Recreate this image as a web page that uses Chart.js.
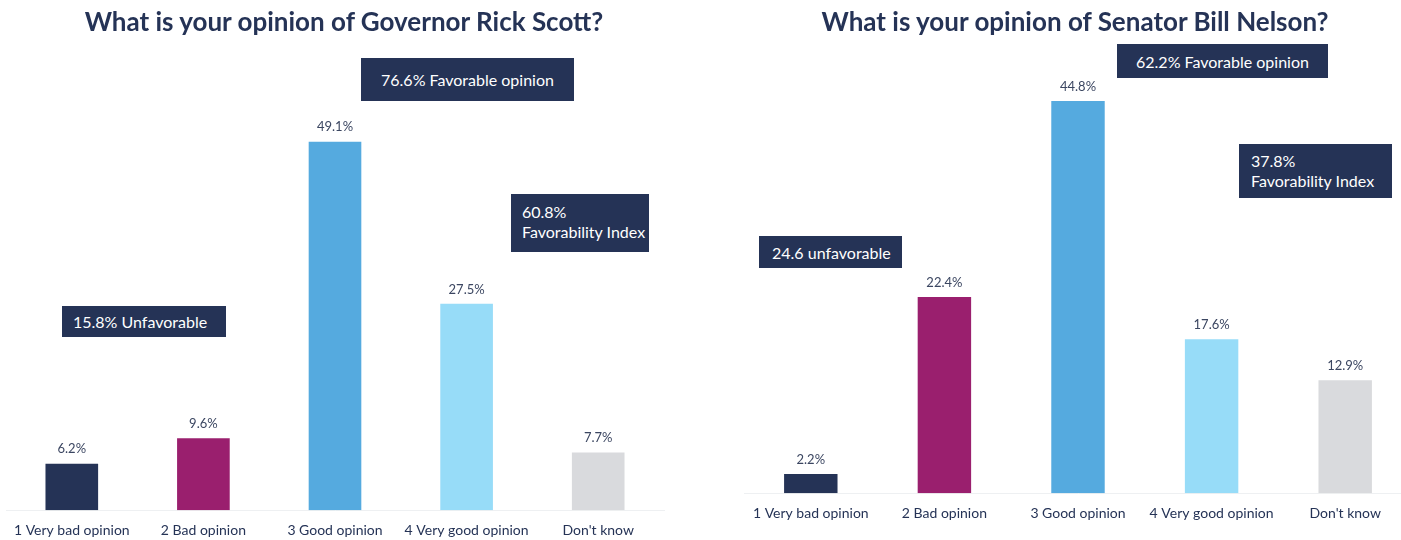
<!DOCTYPE html>
<html>
<head>
<meta charset="utf-8">
<script src="https://cdn.jsdelivr.net/npm/chart.js@4.4.1/dist/chart.umd.min.js"></script>
<style>
  html, body { margin:0; padding:0; background:#fff; overflow:hidden; width:1401px; height:540px; }
  .wrap { position:absolute; top:0; height:552px; }
  .title { position:absolute; top:5px; width:700px; text-align:center; font:bold 26px Lato, sans-serif; color:#253356; white-space:nowrap; }
  .box { position:absolute; background:#253356; color:#fff; font:16px Lato, sans-serif; box-sizing:border-box; white-space:nowrap; }
  .box.c { display:flex; align-items:center; justify-content:center; }
  .box.l { display:flex; align-items:center; }
  .box.two { line-height:20px; padding-top:8px; }
</style>
</head>
<body>
<div class="wrap" style="left:0;width:700px"><canvas id="scottChart"></canvas></div>
<div class="wrap" style="left:700px;width:720px"><canvas id="nelsonChart"></canvas></div>

<div class="title" style="left:-6px">What is your opinion of Governor Rick Scott?</div>
<div class="title" style="left:725px">What is your opinion of Senator Bill Nelson?</div>

<div class="box c" style="left:361px;top:58px;width:213px;height:43px">76.6% Favorable opinion</div>
<div class="box two" style="left:511px;top:194px;width:138px;height:58px;padding-left:11px">60.8%<br>Favorability Index</div>
<div class="box l" style="left:62px;top:306px;width:164px;height:31px;padding-left:11px">15.8% Unfavorable</div>

<div class="box c" style="left:1117px;top:44px;width:211px;height:34px">62.2% Favorable opinion</div>
<div class="box two" style="left:1239px;top:144px;width:153px;height:54px;padding-left:12px;padding-top:7px">37.8%<br>Favorability Index</div>
<div class="box l" style="left:759px;top:236px;width:143px;height:32px;padding-left:13px">24.6 unfavorable</div>

<script>
// categorias y valores (%)
const categories = ['1 Very bad opinion', '2 Bad opinion', '3 Good opinion', '4 Very good opinion', "Don't know"];
const scottValues = [6.2, 9.6, 49.1, 27.5, 7.7];
const nelsonValues = [2.2, 22.4, 44.8, 17.6, 12.9];
const barColors = ['#253356', '#9a1f6e', '#55aadf', '#97dcf8', '#d9dadd'];

// etiquetas de valor encima de cada barra
const valueLabels = {
  id: 'valueLabels',
  afterDatasetsDraw(chart) {
    const ctx = chart.ctx;
    const meta = chart.getDatasetMeta(0);
    ctx.save();
    ctx.font = '13px Lato, sans-serif';
    ctx.fillStyle = '#3b4661';
    ctx.textAlign = 'center';
    ctx.textBaseline = 'bottom';
    meta.data.forEach((bar, i) => {
      const v = chart.data.datasets[0].data[i];
      ctx.fillText(v.toFixed(1) + '%', bar.x, bar.y - 8);
    });
    ctx.restore();
  }
};

function makeChart(id, values, yMax, pad) {
  return new Chart(document.getElementById(id), {
    type: 'bar',
    data: { labels: categories, datasets: [{ data: values, backgroundColor: barColors, barPercentage: 0.4, categoryPercentage: 1 }] },
    options: {
      responsive: true, maintainAspectRatio: false, animation: false,
      layout: { padding: pad },
      plugins: { legend: { display: false }, tooltip: { enabled: false } },
      scales: {
        x: {
          grid: { display: false, drawTicks: false },
          border: { display: true, color: '#eef0f2', width: 1 },
          ticks: { color: '#253356', font: { family: 'Lato, sans-serif', size: 14 }, padding: 12, maxRotation: 0, autoSkip: false }
        },
        y: { display: false, min: 0, max: yMax }
      }
    },
    plugins: [valueLabels]
  });
}

makeChart('scottChart', scottValues, 60, { left: 6, right: 36, top: 60, bottom: 1 });
makeChart('nelsonChart', nelsonValues, 50, { left: 44, right: 8, top: 55.5, bottom: 18 });
</script>
</body>
</html>
